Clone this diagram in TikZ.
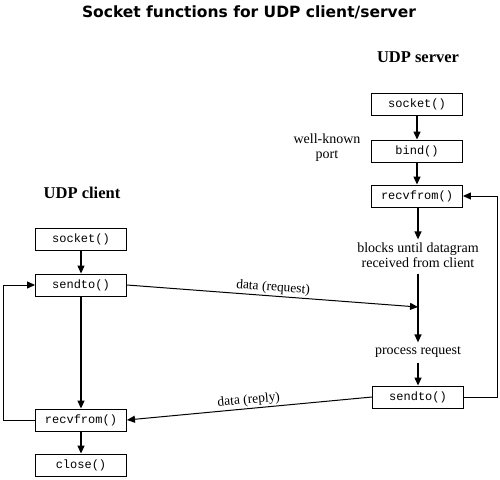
\documentclass[tikz,border=0pt]{standalone}
\usepackage{fontspec}
\setmainfont{Liberation Serif}
\setmonofont{Liberation Mono}
\newfontfamily\titlefont{DejaVu Sans}
\usetikzlibrary{arrows.meta}
\begin{document}
\begin{tikzpicture}[x=1pt,y=1pt,
  fn/.style={draw,line width=0.9pt,minimum width=91pt,minimum height=22pt,inner sep=0pt,font=\fontsize{12}{12}\ttfamily},
  lbl/.style={font=\fontsize{14}{15}\selectfont,align=center},
  hdr/.style={font=\fontsize{16.5}{16.5}\selectfont\bfseries},
  flow/.style={line width=1.3pt,-{Triangle[length=8pt,width=7pt]}},
  loop/.style={line width=0.9pt,-{Triangle[length=8pt,width=7pt]}},
  msg/.style={line width=1pt,-{Triangle[length=8pt,width=7pt]}},
  mlbl/.style={font=\fontsize{13.5}{13.5}\selectfont,sloped,above,inner sep=1.5pt}]
\useasboundingbox (0,0) rectangle (500,-479);
\node[font=\titlefont\fontsize{15.5}{15.5}\selectfont\bfseries] (title) at (249,-12) {Socket functions for UDP client/server};
% server
\node[hdr] (srvlbl) at (418,-57) {UDP server};
\node[fn] (ssock) at (417,-104) {socket()};
\node[fn] (sbind) at (417,-151) {bind()};
\node[fn] (srecv) at (417,-196) {recvfrom()};
\node[lbl] (wk) at (327,-148) {well-known\\port};
\node[lbl,inner sep=1pt] (blocks) at (418,-255) {blocks until datagram\\received from client};
\coordinate (sjoin) at (418,-307);
\node[lbl,inner sep=1pt] (proc) at (418,-352) {process request};
\node[fn] (ssend) at (418,-397) {sendto()};
\draw[flow] (ssock) -- (sbind);
\draw[flow] (sbind) -- (srecv);
\draw[flow] (srecv.south -| blocks.north) -- ([yshift=2pt]blocks.north);
\draw[flow,shorten <=5pt] (blocks.south) -- ([yshift=3pt]proc.north);
\draw[flow,shorten <=4pt] (proc.south) -- (ssend.north);
\draw[loop] (ssend.east) -- (497,-397) |- (srecv.east);
% client
\node[hdr] (clbl) at (82,-193) {UDP client};
\node[fn] (csock) at (81,-239) {socket()};
\node[fn] (csend) at (81,-285) {sendto()};
\node[fn] (crecv) at (81,-420) {recvfrom()};
\node[fn] (cclose) at (81,-465) {close()};
\draw[flow] (csock) -- (csend);
\draw[flow] (csend) -- (crecv);
\draw[flow] (crecv) -- (cclose);
\draw[loop] (crecv.west) -- (3,-420) |- (csend.west);
% messages
\draw[msg] (csend.east) -- node[mlbl,pos=0.5] {data (request)} (sjoin);
\draw[msg] (ssend.west) -- node[mlbl,pos=0.5] {data (reply)} (crecv.east);
\end{tikzpicture}
\end{document}
